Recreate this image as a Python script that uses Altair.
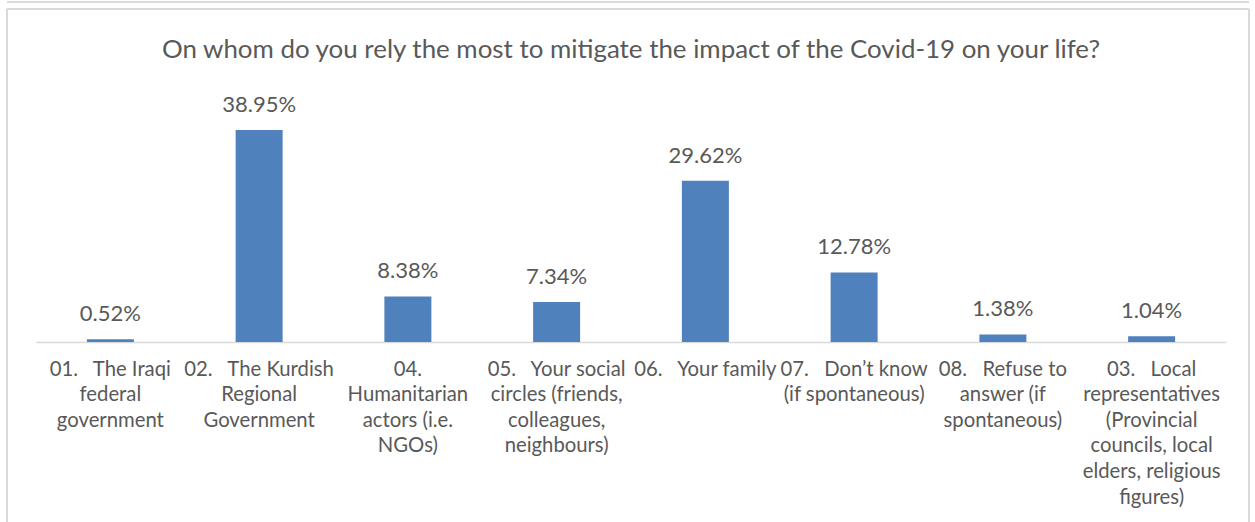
import altair as alt
import pandas as pd

SP = "\u2002\u00a0"
categories = [
    f"01.{SP}The Iraqi|federal|government",
    f"02.{SP}The Kurdish|Regional|Government",
    "04.|Humanitarian|actors (i.e.|NGOs)",
    f"05.{SP}Your social|circles (friends,|colleagues,|neighbours)",
    f"06.{SP}Your family",
    f"07.{SP}Don\u2019t know|(if spontaneous)",
    f"08.{SP}Refuse to|answer (if|spontaneous)",
    f"03.{SP}Local|representatives|(Provincial|councils, local|elders, religious|figures)",
]
values = [0.52, 38.95, 8.38, 7.34, 29.62, 12.78, 1.38, 1.04]
value_labels = ["0.52%", "38.95%", "8.38%", "7.34%", "29.62%", "12.78%", "1.38%", "1.04%"]
title_text = "On whom do you rely the most to mitigate the impact of the Covid-19 on your life?"

df = pd.DataFrame({"cat": categories, "val": values, "lab": value_labels})
one = pd.DataFrame({"t": [title_text]})

FONT = "Lato"
GREY = "#595959"
LINE = "#d9d9d9"

x = alt.X("cat:N", sort=categories, title=None,
          axis=alt.Axis(labelExpr="split(datum.label, '|')", labelAngle=0,
                        labelAlign="center", labelBaseline="top",
                        labelFontSize=20.3, labelFont=FONT, labelColor=GREY,
                        labelLineHeight=25.6, labelPadding=17, labelLimit=300,
                        ticks=False, domainColor=LINE, domainWidth=1.5,
                        grid=False))
y = alt.Y("val:Q", scale=alt.Scale(domain=[0, 45]), axis=None)

base = alt.Chart(df)

bars = base.mark_bar(size=47, color="#4f81bd").encode(x=x, y=y)
text = base.mark_text(dy=-18, baseline="alphabetic", fontSize=22, font=FONT,
                      color=GREY).encode(x=alt.X("cat:N", sort=categories), y=y, text="lab:N")

border = alt.Chart(one)
left = border.mark_rule(color=LINE, strokeWidth=2, clip=False).encode(
    x=alt.value(-29), y=alt.value(-88), y2=alt.value(440))
right = border.mark_rule(color=LINE, strokeWidth=2, clip=False).encode(
    x=alt.value(1213), y=alt.value(-88), y2=alt.value(440))
top = border.mark_rule(color=LINE, strokeWidth=2, clip=False).encode(
    x=alt.value(-29), x2=alt.value(1213), y=alt.value(-88))
top2 = border.mark_rule(color=LINE, strokeWidth=2, clip=False).encode(
    x=alt.value(-29), x2=alt.value(1213), y=alt.value(-95))
title = border.mark_text(fontSize=25.9, font=FONT, color=GREY, align="center",
                         baseline="alphabetic", clip=False).encode(
    x=alt.value(595), y=alt.value(-39), text="t:N")

chart = alt.layer(left, right, top, top2, title, bars, text).properties(
    width=1190, height=245,
    autosize=alt.AutoSizeParams(type="none"),
    padding={"left": 36, "top": 97, "right": 29, "bottom": 180},
).configure(background="white", view=alt.ViewConfig(stroke="transparent", strokeWidth=0))

chart.save("out.html", embed_options={"renderer": "svg", "actions": False})
